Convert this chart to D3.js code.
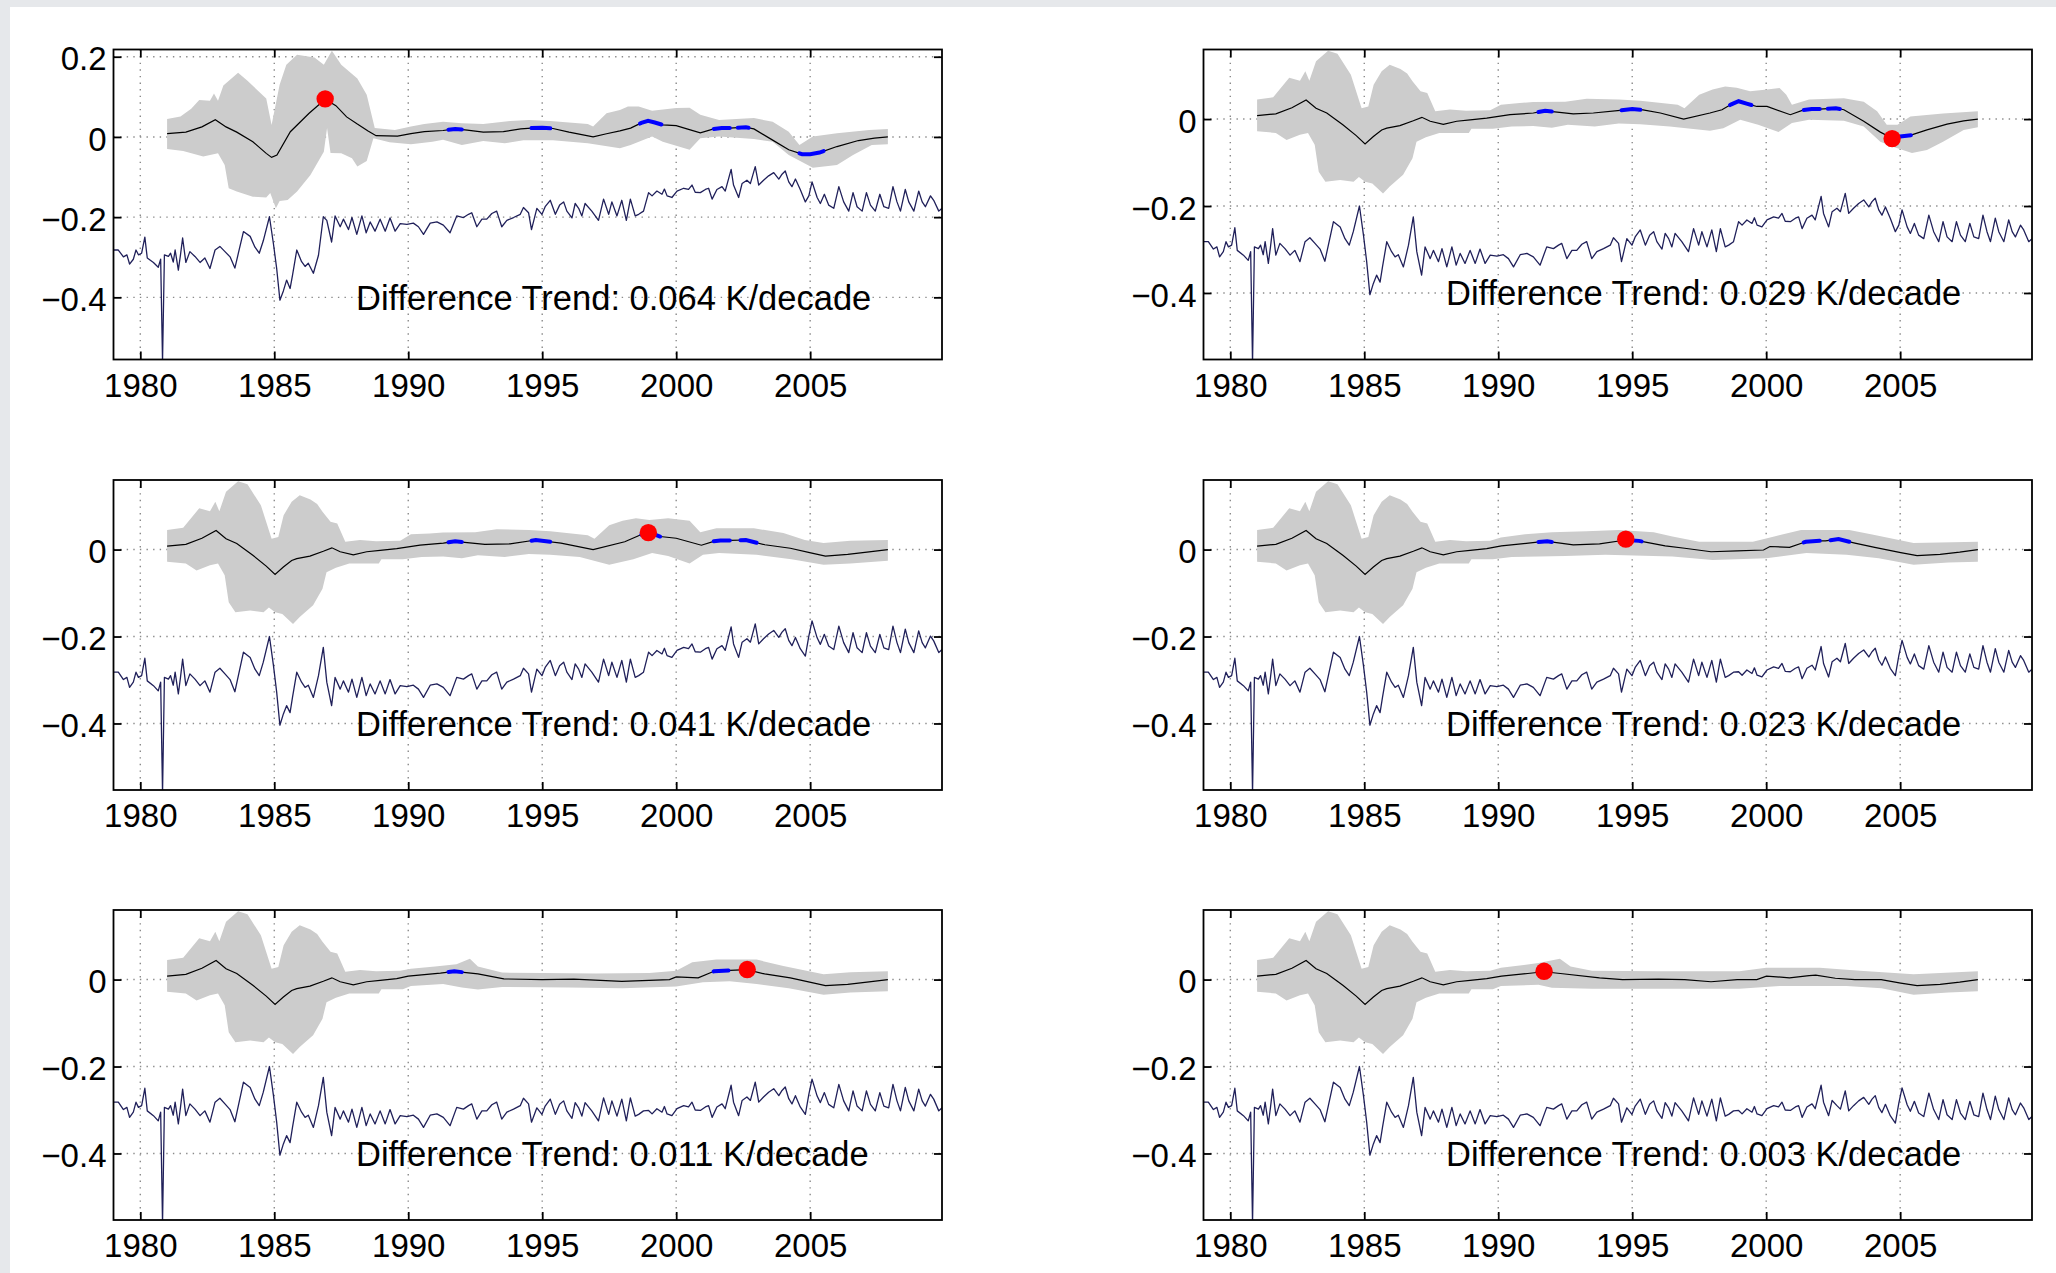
<!DOCTYPE html>
<html><head><meta charset="utf-8">
<script src="https://cdn.jsdelivr.net/npm/d3@7"></script>
<style>html,body{margin:0;padding:0;background:#e6e8eb;} svg{display:block;}</style>
</head><body>
<script>
// ---------------- DATA ----------------
const xDomain = [1979, 2009.92];
const xTickYears = [1980, 1985, 1990, 1995, 2000, 2005];
const yTicksP1 = [-0.4, -0.2, 0, 0.2];
const yTicksOther = [-0.4, -0.2, 0];
const yDomP1 = [-0.555, 0.218];
const yDomOther = [-0.553, 0.160];
const trendLabels = [
  "Difference Trend: 0.064 K/decade", "Difference Trend: 0.029 K/decade",
  "Difference Trend: 0.041 K/decade", "Difference Trend: 0.023 K/decade",
  "Difference Trend: 0.011 K/decade", "Difference Trend: 0.003 K/decade"];

const navyYears = [
1979.0,1979.18,1979.37,1979.5,1979.6,1979.74,1979.84,1979.93,1980.05,1980.17,
1980.26,1980.49,1980.67,1980.76,1980.83,1980.9,1981.05,1981.13,1981.23,1981.3,
1981.42,1981.5,1981.58,1981.7,1981.85,1982.04,1982.23,1982.41,1982.6,1982.79,
1982.97,1983.16,1983.35,1983.53,1983.66,1983.85,1984.1,1984.28,1984.44,1984.59,
1984.82,1984.97,1985.09,1985.21,1985.34,1985.46,1985.59,1985.68,1985.84,1986.02,
1986.15,1986.27,1986.46,1986.65,1986.83,1986.96,1987.14,1987.27,1987.46,1987.58,
1987.77,1987.9,1988.08,1988.27,1988.43,1988.58,1988.76,1988.95,1989.14,1989.32,
1989.51,1989.7,1989.95,1990.19,1990.38,1990.57,1990.82,1991.07,1991.31,1991.56,
1991.81,1992.06,1992.25,1992.37,1992.56,1992.75,1992.93,1993.12,1993.3,1993.49,
1993.68,1993.93,1994.18,1994.3,1994.49,1994.6,1994.8,1994.99,1995.11,1995.3,
1995.49,1995.65,1995.8,1995.92,1996.11,1996.23,1996.36,1996.48,1996.6,1996.85,
1997.1,1997.29,1997.48,1997.6,1997.79,1997.97,1998.14,1998.29,1998.47,1998.6,
1998.78,1998.97,1999.1,1999.28,1999.47,1999.56,1999.66,1999.84,2000.03,2000.28,
2000.46,2000.59,2000.71,2000.9,2001.09,2001.21,2001.34,2001.52,2001.71,2001.83,
2002.05,2002.14,2002.33,2002.46,2002.64,2002.77,2002.95,2003.08,2003.26,2003.45,
2003.64,2003.83,2003.95,2004.07,2004.2,2004.32,2004.45,2004.63,2004.82,2004.95,
2005.07,2005.26,2005.38,2005.53,2005.69,2005.88,2006.07,2006.25,2006.44,2006.6,
2006.75,2006.94,2007.1,2007.25,2007.43,2007.6,2007.75,2007.93,2008.09,2008.24,
2008.37,2008.55,2008.68,2008.87,2009.05,2009.18,2009.3,2009.49,2009.61,2009.8,
2009.92];

const diffP1 = [
-0.282,-0.282,-0.299,-0.294,-0.317,-0.305,-0.282,-0.294,-0.290,-0.250,
-0.302,-0.313,-0.325,-0.305,-0.560,-0.294,-0.298,-0.290,-0.312,-0.282,
-0.332,-0.294,-0.252,-0.313,-0.286,-0.298,-0.313,-0.302,-0.328,-0.282,
-0.273,-0.286,-0.299,-0.327,-0.290,-0.236,-0.248,-0.275,-0.290,-0.259,
-0.199,-0.267,-0.328,-0.407,-0.384,-0.357,-0.378,-0.345,-0.282,-0.311,
-0.323,-0.315,-0.340,-0.295,-0.199,-0.208,-0.262,-0.197,-0.224,-0.205,
-0.231,-0.201,-0.243,-0.197,-0.239,-0.212,-0.235,-0.205,-0.235,-0.202,
-0.235,-0.216,-0.218,-0.215,-0.224,-0.243,-0.215,-0.212,-0.220,-0.239,
-0.197,-0.201,-0.193,-0.189,-0.224,-0.205,-0.205,-0.191,-0.185,-0.224,
-0.208,-0.201,-0.193,-0.176,-0.189,-0.231,-0.178,-0.193,-0.174,-0.158,
-0.193,-0.170,-0.162,-0.185,-0.202,-0.166,-0.178,-0.197,-0.166,-0.185,
-0.208,-0.155,-0.193,-0.162,-0.197,-0.158,-0.208,-0.155,-0.197,-0.193,
-0.185,-0.139,-0.147,-0.135,-0.143,-0.130,-0.147,-0.151,-0.135,-0.128,
-0.131,-0.120,-0.138,-0.139,-0.131,-0.128,-0.155,-0.131,-0.124,-0.135,
-0.081,-0.120,-0.151,-0.116,-0.108,-0.116,-0.074,-0.120,-0.108,-0.097,
-0.089,-0.105,-0.093,-0.085,-0.112,-0.124,-0.105,-0.131,-0.162,-0.147,
-0.112,-0.151,-0.166,-0.143,-0.170,-0.178,-0.124,-0.162,-0.185,-0.139,
-0.174,-0.185,-0.139,-0.170,-0.185,-0.143,-0.174,-0.178,-0.124,-0.162,
-0.185,-0.131,-0.162,-0.185,-0.135,-0.162,-0.174,-0.147,-0.158,-0.185,
-0.178];

const diffP2 = [
-0.282,-0.282,-0.299,-0.294,-0.317,-0.305,-0.282,-0.294,-0.290,-0.250,
-0.302,-0.313,-0.325,-0.305,-0.560,-0.294,-0.298,-0.290,-0.312,-0.282,
-0.332,-0.294,-0.252,-0.313,-0.286,-0.298,-0.313,-0.302,-0.328,-0.282,
-0.273,-0.286,-0.299,-0.327,-0.290,-0.236,-0.248,-0.275,-0.290,-0.259,
-0.200,-0.267,-0.328,-0.404,-0.378,-0.359,-0.375,-0.340,-0.282,-0.305,
-0.317,-0.312,-0.340,-0.290,-0.225,-0.305,-0.359,-0.294,-0.321,-0.302,
-0.328,-0.298,-0.340,-0.294,-0.336,-0.309,-0.332,-0.302,-0.332,-0.299,
-0.332,-0.313,-0.315,-0.312,-0.321,-0.340,-0.312,-0.309,-0.317,-0.336,
-0.294,-0.298,-0.290,-0.286,-0.321,-0.302,-0.302,-0.288,-0.282,-0.321,
-0.305,-0.298,-0.290,-0.273,-0.286,-0.328,-0.275,-0.290,-0.271,-0.255,
-0.290,-0.267,-0.259,-0.282,-0.299,-0.263,-0.275,-0.294,-0.263,-0.282,
-0.305,-0.252,-0.290,-0.259,-0.294,-0.255,-0.305,-0.252,-0.294,-0.290,
-0.282,-0.236,-0.244,-0.232,-0.240,-0.227,-0.244,-0.248,-0.232,-0.225,
-0.228,-0.217,-0.235,-0.236,-0.228,-0.225,-0.252,-0.228,-0.221,-0.232,
-0.178,-0.217,-0.248,-0.213,-0.205,-0.213,-0.171,-0.217,-0.205,-0.194,
-0.186,-0.202,-0.190,-0.182,-0.209,-0.221,-0.202,-0.228,-0.259,-0.244,
-0.209,-0.248,-0.263,-0.240,-0.267,-0.275,-0.221,-0.259,-0.282,-0.236,
-0.271,-0.282,-0.236,-0.267,-0.282,-0.240,-0.271,-0.275,-0.221,-0.259,
-0.282,-0.228,-0.259,-0.282,-0.232,-0.259,-0.271,-0.244,-0.255,-0.282,
-0.275];

const diffP3 = [
-0.282,-0.282,-0.299,-0.294,-0.317,-0.305,-0.282,-0.294,-0.290,-0.250,
-0.302,-0.313,-0.325,-0.305,-0.560,-0.294,-0.298,-0.290,-0.312,-0.282,
-0.332,-0.294,-0.252,-0.313,-0.286,-0.298,-0.313,-0.302,-0.328,-0.282,
-0.273,-0.286,-0.299,-0.327,-0.290,-0.236,-0.248,-0.275,-0.290,-0.259,
-0.200,-0.267,-0.328,-0.404,-0.378,-0.359,-0.375,-0.340,-0.282,-0.305,
-0.317,-0.312,-0.340,-0.290,-0.225,-0.305,-0.359,-0.294,-0.321,-0.302,
-0.328,-0.298,-0.340,-0.294,-0.336,-0.309,-0.332,-0.302,-0.332,-0.299,
-0.332,-0.313,-0.315,-0.312,-0.321,-0.340,-0.312,-0.309,-0.317,-0.336,
-0.294,-0.298,-0.290,-0.286,-0.321,-0.302,-0.302,-0.288,-0.282,-0.321,
-0.305,-0.298,-0.290,-0.273,-0.286,-0.328,-0.275,-0.290,-0.271,-0.255,
-0.290,-0.267,-0.259,-0.282,-0.299,-0.263,-0.275,-0.294,-0.263,-0.282,
-0.305,-0.252,-0.290,-0.259,-0.294,-0.255,-0.305,-0.252,-0.294,-0.290,
-0.282,-0.236,-0.244,-0.232,-0.240,-0.227,-0.244,-0.248,-0.232,-0.225,
-0.228,-0.217,-0.235,-0.236,-0.228,-0.225,-0.252,-0.228,-0.221,-0.232,
-0.178,-0.217,-0.248,-0.213,-0.205,-0.213,-0.171,-0.217,-0.205,-0.194,
-0.186,-0.202,-0.190,-0.182,-0.209,-0.221,-0.202,-0.228,-0.245,-0.199,
-0.164,-0.203,-0.218,-0.195,-0.222,-0.230,-0.176,-0.214,-0.237,-0.191,
-0.226,-0.237,-0.191,-0.222,-0.237,-0.195,-0.226,-0.230,-0.176,-0.214,
-0.237,-0.183,-0.214,-0.237,-0.187,-0.214,-0.226,-0.199,-0.210,-0.237,
-0.230];

const diffP4 = [
-0.282,-0.282,-0.299,-0.294,-0.317,-0.305,-0.282,-0.294,-0.290,-0.250,
-0.302,-0.313,-0.325,-0.305,-0.560,-0.294,-0.298,-0.290,-0.312,-0.282,
-0.332,-0.294,-0.252,-0.313,-0.286,-0.298,-0.313,-0.302,-0.328,-0.282,
-0.273,-0.286,-0.299,-0.327,-0.290,-0.236,-0.248,-0.275,-0.290,-0.259,
-0.200,-0.267,-0.328,-0.404,-0.378,-0.359,-0.375,-0.340,-0.282,-0.305,
-0.317,-0.312,-0.340,-0.290,-0.225,-0.305,-0.359,-0.294,-0.321,-0.302,
-0.328,-0.298,-0.340,-0.294,-0.336,-0.309,-0.332,-0.302,-0.332,-0.299,
-0.332,-0.313,-0.315,-0.312,-0.321,-0.340,-0.312,-0.309,-0.317,-0.336,
-0.294,-0.298,-0.290,-0.286,-0.321,-0.302,-0.302,-0.288,-0.282,-0.321,
-0.305,-0.298,-0.290,-0.273,-0.286,-0.328,-0.275,-0.290,-0.271,-0.255,
-0.290,-0.267,-0.259,-0.282,-0.299,-0.263,-0.275,-0.294,-0.263,-0.282,
-0.305,-0.252,-0.290,-0.259,-0.294,-0.255,-0.305,-0.252,-0.294,-0.290,
-0.282,-0.281,-0.289,-0.277,-0.285,-0.272,-0.289,-0.293,-0.277,-0.270,
-0.273,-0.262,-0.280,-0.281,-0.273,-0.270,-0.297,-0.273,-0.266,-0.277,
-0.223,-0.262,-0.293,-0.258,-0.250,-0.258,-0.216,-0.262,-0.250,-0.239,
-0.231,-0.247,-0.235,-0.227,-0.254,-0.266,-0.247,-0.273,-0.290,-0.244,
-0.209,-0.248,-0.263,-0.240,-0.267,-0.275,-0.221,-0.259,-0.282,-0.236,
-0.271,-0.282,-0.236,-0.267,-0.282,-0.240,-0.271,-0.275,-0.221,-0.259,
-0.282,-0.228,-0.259,-0.282,-0.232,-0.259,-0.271,-0.244,-0.255,-0.282,
-0.275];

const diffP5 = [
-0.282,-0.282,-0.299,-0.294,-0.317,-0.305,-0.282,-0.294,-0.290,-0.250,
-0.302,-0.313,-0.325,-0.305,-0.560,-0.294,-0.298,-0.290,-0.312,-0.282,
-0.332,-0.294,-0.252,-0.313,-0.286,-0.298,-0.313,-0.302,-0.328,-0.282,
-0.273,-0.286,-0.299,-0.327,-0.290,-0.236,-0.248,-0.275,-0.290,-0.259,
-0.200,-0.267,-0.328,-0.404,-0.378,-0.359,-0.375,-0.340,-0.282,-0.305,
-0.317,-0.312,-0.340,-0.290,-0.225,-0.305,-0.359,-0.294,-0.321,-0.302,
-0.328,-0.298,-0.340,-0.294,-0.336,-0.309,-0.332,-0.302,-0.332,-0.299,
-0.332,-0.313,-0.315,-0.312,-0.321,-0.340,-0.312,-0.309,-0.317,-0.336,
-0.294,-0.298,-0.290,-0.286,-0.321,-0.302,-0.302,-0.288,-0.282,-0.321,
-0.305,-0.298,-0.290,-0.273,-0.286,-0.328,-0.295,-0.310,-0.291,-0.275,
-0.310,-0.287,-0.279,-0.302,-0.319,-0.283,-0.295,-0.314,-0.283,-0.302,
-0.325,-0.272,-0.310,-0.279,-0.314,-0.275,-0.325,-0.272,-0.314,-0.310,
-0.302,-0.301,-0.309,-0.297,-0.305,-0.292,-0.309,-0.313,-0.297,-0.290,
-0.293,-0.282,-0.300,-0.301,-0.293,-0.290,-0.317,-0.293,-0.286,-0.297,
-0.243,-0.282,-0.313,-0.278,-0.270,-0.278,-0.236,-0.282,-0.270,-0.259,
-0.251,-0.267,-0.255,-0.247,-0.274,-0.286,-0.267,-0.293,-0.310,-0.264,
-0.229,-0.268,-0.283,-0.260,-0.287,-0.295,-0.241,-0.279,-0.302,-0.256,
-0.291,-0.302,-0.256,-0.287,-0.302,-0.260,-0.291,-0.295,-0.241,-0.279,
-0.302,-0.248,-0.279,-0.302,-0.252,-0.279,-0.291,-0.264,-0.275,-0.302,
-0.295];

const diffP6 = [
-0.282,-0.282,-0.299,-0.294,-0.317,-0.305,-0.282,-0.294,-0.290,-0.250,
-0.302,-0.313,-0.325,-0.305,-0.560,-0.294,-0.298,-0.290,-0.312,-0.282,
-0.332,-0.294,-0.252,-0.313,-0.286,-0.298,-0.313,-0.302,-0.328,-0.282,
-0.273,-0.286,-0.299,-0.327,-0.290,-0.236,-0.248,-0.275,-0.290,-0.259,
-0.200,-0.267,-0.328,-0.404,-0.378,-0.359,-0.375,-0.340,-0.282,-0.305,
-0.317,-0.312,-0.340,-0.290,-0.225,-0.305,-0.359,-0.294,-0.321,-0.302,
-0.328,-0.298,-0.340,-0.294,-0.336,-0.309,-0.332,-0.302,-0.332,-0.299,
-0.332,-0.313,-0.315,-0.312,-0.321,-0.340,-0.312,-0.309,-0.317,-0.336,
-0.294,-0.298,-0.290,-0.286,-0.321,-0.302,-0.302,-0.288,-0.282,-0.321,
-0.305,-0.298,-0.290,-0.273,-0.286,-0.328,-0.295,-0.310,-0.291,-0.275,
-0.310,-0.287,-0.279,-0.302,-0.319,-0.283,-0.295,-0.314,-0.283,-0.302,
-0.325,-0.272,-0.310,-0.279,-0.314,-0.275,-0.325,-0.272,-0.314,-0.310,
-0.302,-0.301,-0.309,-0.297,-0.305,-0.292,-0.309,-0.313,-0.297,-0.290,
-0.293,-0.282,-0.300,-0.301,-0.293,-0.290,-0.317,-0.293,-0.286,-0.297,
-0.243,-0.282,-0.313,-0.278,-0.290,-0.298,-0.256,-0.302,-0.290,-0.279,
-0.271,-0.287,-0.275,-0.267,-0.294,-0.306,-0.287,-0.313,-0.330,-0.284,
-0.249,-0.288,-0.303,-0.280,-0.307,-0.315,-0.261,-0.299,-0.322,-0.276,
-0.311,-0.322,-0.276,-0.307,-0.322,-0.280,-0.311,-0.315,-0.261,-0.299,
-0.322,-0.268,-0.299,-0.322,-0.272,-0.299,-0.311,-0.284,-0.295,-0.322,
-0.315];

// smoothed difference (black line) and its uncertainty band, [year, value]
const meanP1 = [[1981.0,0.008],[1981.7,0.012],[1982.3,0.025],[1982.8,0.043],[1983.2,0.025],[1983.6,0.012],[1984.2,-0.012],[1984.7,-0.041],[1984.9,-0.051],[1985.1,-0.045],[1985.6,0.013],[1986.3,0.059],[1986.9,0.094],[1987.3,0.078],[1987.7,0.05],[1988.1,0.032],[1988.5,0.015],[1988.8,0.003],[1989.6,0.002],[1990.1,0.008],[1990.6,0.013],[1991.3,0.016],[1991.75,0.020],[1992.2,0.017],[1992.8,0.012],[1993.55,0.013],[1994.2,0.020],[1994.6,0.022],[1995.0,0.023],[1995.4,0.021],[1996.0,0.012],[1996.9,0.0],[1997.4,0.008],[1997.9,0.015],[1998.3,0.022],[1998.7,0.035],[1998.95,0.040],[1999.2,0.036],[1999.5,0.030],[2000.0,0.028],[2000.4,0.02],[2000.9,0.010],[2001.4,0.02],[2001.7,0.022],[2002.0,0.022],[2002.3,0.023],[2002.6,0.024],[2002.9,0.020],[2003.6,-0.008],[2004.2,-0.032],[2004.7,-0.043],[2005.0,-0.043],[2005.35,-0.039],[2006.0,-0.024],[2006.8,-0.009],[2007.4,-0.003],[2007.9,0.0]];
const upperP1 = [[1981.0,0.045],[1981.5,0.051],[1981.9,0.07],[1982.2,0.092],[1982.6,0.09],[1982.75,0.108],[1982.9,0.09],[1983.1,0.128],[1983.65,0.16],[1984.0,0.14],[1984.7,0.096],[1984.9,0.03],[1985.2,0.13],[1985.45,0.18],[1985.85,0.205],[1986.5,0.198],[1986.85,0.18],[1987.15,0.215],[1987.5,0.18],[1988.1,0.146],[1988.45,0.105],[1988.75,0.022],[1989.5,0.017],[1990.1,0.026],[1990.6,0.032],[1991.3,0.038],[1992.0,0.034],[1992.8,0.032],[1993.8,0.040],[1994.5,0.042],[1995.3,0.04],[1996.7,0.032],[1996.9,0.026],[1997.4,0.059],[1997.9,0.067],[1998.2,0.076],[1998.6,0.076],[1999.1,0.065],[2000.0,0.072],[2000.5,0.073],[2000.9,0.055],[2001.6,0.042],[2002.9,0.047],[2003.6,0.038],[2004.2,0.013],[2004.6,-0.02],[2005.1,0.001],[2006.0,0.009],[2007.2,0.017],[2007.9,0.020]];
const lowerP1 = [[1981.0,-0.030],[1981.6,-0.035],[1982.35,-0.049],[1982.9,-0.041],[1983.15,-0.07],[1983.3,-0.128],[1983.6,-0.136],[1984.2,-0.149],[1984.7,-0.151],[1984.85,-0.14],[1985.06,-0.178],[1985.2,-0.16],[1985.5,-0.157],[1985.85,-0.136],[1986.35,-0.095],[1986.85,-0.037],[1986.97,0.022],[1987.1,-0.04],[1987.5,-0.041],[1987.9,-0.053],[1988.1,-0.074],[1988.45,-0.06],[1988.7,-0.003],[1989.3,-0.013],[1990.1,-0.018],[1990.9,-0.012],[1991.3,-0.007],[1992.0,-0.02],[1992.8,-0.01],[1993.6,-0.016],[1994.3,-0.008],[1995.4,-0.008],[1996.7,-0.016],[1997.9,-0.028],[1998.3,-0.02],[1999.1,0.001],[1999.5,-0.012],[2000.5,-0.032],[2000.9,-0.003],[2001.6,0.001],[2002.9,-0.005],[2003.6,-0.012],[2004.2,-0.045],[2004.8,-0.066],[2005.1,-0.077],[2006.0,-0.07],[2006.6,-0.045],[2007.3,-0.020],[2007.9,-0.018]];

const meanEarly = [[1981.0,0.008],[1981.7,0.012],[1982.3,0.026],[1982.83,0.044],[1983.2,0.025],[1983.6,0.014],[1984.2,-0.013],[1984.7,-0.038],[1985.03,-0.057],[1985.34,-0.040],[1985.65,-0.025],[1985.84,-0.021],[1986.33,-0.015],[1986.83,-0.004],[1987.15,0.004],[1987.46,-0.005],[1987.95,-0.012],[1988.45,-0.005],[1988.95,-0.002],[1989.57,0.002]];
const upperEarly = [[1981.0,0.045],[1981.6,0.05],[1982.2,0.095],[1982.6,0.088],[1982.8,0.11],[1982.95,0.088],[1983.2,0.133],[1983.65,0.157],[1984.0,0.15],[1984.5,0.102],[1984.9,0.025],[1985.15,0.029],[1985.35,0.079],[1985.65,0.11],[1985.95,0.125],[1986.35,0.115],[1986.6,0.105],[1986.8,0.087],[1987.1,0.064],[1987.35,0.06],[1987.65,0.018],[1988.2,0.022],[1988.8,0.019],[1989.7,0.02]];
const lowerEarly = [[1981.0,-0.028],[1981.7,-0.032],[1982.1,-0.048],[1982.6,-0.036],[1982.9,-0.032],[1983.15,-0.059],[1983.3,-0.121],[1983.55,-0.144],[1984.1,-0.14],[1984.6,-0.144],[1984.8,-0.133],[1985.03,-0.144],[1985.3,-0.148],[1985.7,-0.171],[1985.95,-0.155],[1986.45,-0.128],[1986.8,-0.09],[1986.95,-0.052],[1987.3,-0.042],[1987.8,-0.032],[1988.9,-0.032],[1989.0,-0.022],[1989.8,-0.022]];

const meanLateP2 = [[1990.44,0.010],[1991.31,0.014],[1991.75,0.019],[1992.2,0.016],[1992.8,0.012],[1993.55,0.014],[1994.55,0.020],[1995.0,0.023],[1995.4,0.021],[1996.05,0.014],[1996.92,0.0],[1997.9,0.014],[1998.35,0.0215],[1998.7,0.034],[1998.97,0.041],[1999.3,0.035],[1999.65,0.029],[2000.03,0.029],[2000.9,0.010],[2001.4,0.021],[2001.7,0.023],[2002.0,0.023],[2002.3,0.024],[2002.6,0.025],[2002.9,0.0215],[2003.64,-0.005],[2004.26,-0.030],[2004.7,-0.044],[2005.0,-0.040],[2005.4,-0.037],[2006.0,-0.025],[2006.75,-0.0115],[2007.37,-0.004],[2007.9,0.0]];
const upperLateP2 = [[1990.1,0.033],[1990.8,0.037],[1991.3,0.039],[1992.5,0.04],[1993.3,0.047],[1994.5,0.045],[1995.3,0.042],[1996.7,0.033],[1996.95,0.025],[1997.5,0.056],[1998.0,0.068],[1998.47,0.075],[1998.9,0.072],[1999.4,0.064],[2000.03,0.068],[2000.5,0.0715],[2000.75,0.056],[2000.96,0.033],[2001.6,0.045],[2002.9,0.048],[2003.64,0.04],[2004.14,0.018],[2004.5,-0.013],[2004.9,-0.013],[2005.38,0.006],[2006.6,0.013],[2007.9,0.018]];
const lowerLateP2 = [[1990.5,-0.017],[1991.3,-0.016],[1992.0,-0.02],[1992.6,-0.013],[1993.6,-0.017],[1994.5,-0.010],[1995.3,-0.012],[1996.4,-0.017],[1997.9,-0.027],[1998.4,-0.021],[1999.03,-0.0015],[1999.7,-0.013],[2000.46,-0.030],[2000.96,-0.009],[2001.6,-0.0015],[2002.9,-0.004],[2003.64,-0.017],[2004.26,-0.052],[2004.7,-0.063],[2005.44,-0.078],[2006.0,-0.071],[2006.6,-0.052],[2007.37,-0.025],[2007.9,-0.019]];

const meanLateP3 = [[1990.44,0.010],[1991.31,0.015],[1991.75,0.019],[1992.2,0.016],[1992.86,0.012],[1993.8,0.013],[1994.76,0.022],[1995.7,0.015],[1996.9,0.0],[1998.08,0.018],[1998.68,0.034],[1998.97,0.040],[1999.4,0.030],[2000.0,0.026],[2000.94,0.010],[2001.4,0.019],[2001.65,0.021],[2002.0,0.021],[2002.6,0.022],[2003.31,0.011],[2004.26,0.003],[2004.98,-0.007],[2005.57,-0.015],[2006.4,-0.011],[2007.12,-0.006],[2007.9,0.0]];
const upperLateP3 = [[1990.1,0.035],[1990.8,0.037],[1991.3,0.039],[1992.5,0.04],[1993.3,0.047],[1994.5,0.045],[1995.3,0.042],[1996.7,0.033],[1996.95,0.025],[1997.5,0.056],[1998.0,0.066],[1998.5,0.072],[1999.0,0.068],[1999.7,0.072],[2000.5,0.066],[2000.9,0.04],[2001.5,0.049],[2002.9,0.049],[2004.0,0.038],[2004.8,0.022],[2005.5,0.015],[2006.5,0.02],[2007.9,0.022]];
const lowerLateP3 = [[1990.5,-0.017],[1991.3,-0.016],[1992.0,-0.02],[1992.6,-0.013],[1993.6,-0.017],[1994.5,-0.010],[1995.3,-0.012],[1996.4,-0.017],[1997.5,-0.035],[1998.4,-0.022],[1999.1,-0.008],[1999.7,-0.015],[2000.5,-0.032],[2001.0,-0.012],[2001.6,-0.008],[2003.0,-0.012],[2004.3,-0.022],[2005.5,-0.035],[2006.5,-0.032],[2007.9,-0.026]];

const meanLateP4 = [[1990.12,0.0085],[1991.46,0.017],[1991.83,0.019],[1992.8,0.011],[1993.78,0.013],[1994.76,0.022],[1995.25,0.020],[1996.23,0.0085],[1996.96,0.003],[1997.94,-0.005],[1998.92,-0.003],[1999.9,-0.001],[2000.14,0.007],[2000.87,0.005],[2001.48,0.018],[2002.0,0.02],[2002.21,0.02],[2002.7,0.024],[2003.31,0.015],[2004.05,0.005],[2005.02,-0.007],[2005.63,-0.014],[2006.49,-0.011],[2007.22,-0.006],[2007.9,0.0]];
const upperLateP4 = [[1990.1,0.028],[1991.0,0.035],[1992.0,0.04],[1993.3,0.042],[1994.5,0.045],[1995.8,0.04],[1996.5,0.03],[1997.5,0.018],[1999.5,0.018],[2000.3,0.03],[2001.3,0.045],[2003.1,0.045],[2004.0,0.034],[2005.5,0.015],[2007.9,0.018]];
const lowerLateP4 = [[1990.5,-0.017],[1991.5,-0.016],[1992.5,-0.015],[1994.0,-0.012],[1996.5,-0.016],[1998.0,-0.024],[2000.0,-0.02],[2001.5,-0.008],[2003.0,-0.012],[2004.2,-0.02],[2005.5,-0.035],[2006.8,-0.03],[2007.9,-0.028]];

const meanLateP5 = [[1990.0,0.008],[1991.2,0.015],[1991.72,0.019],[1992.6,0.013],[1993.57,0.0015],[1995.0,0.0],[1996.18,0.001],[1997.97,-0.004],[1999.75,0.0],[2000.0,0.006],[2000.82,0.004],[2001.41,0.019],[2002.0,0.021],[2002.64,0.023],[2003.3,0.013],[2004.26,0.004],[2004.98,-0.006],[2005.57,-0.014],[2006.4,-0.011],[2007.12,-0.006],[2007.9,0.0]];
const upperLateP5 = [[1990.1,0.025],[1991.0,0.03],[1991.8,0.035],[1992.3,0.048],[1992.6,0.03],[1993.5,0.016],[1995.0,0.015],[1997.0,0.014],[1999.0,0.015],[2000.0,0.02],[2000.6,0.04],[2001.5,0.046],[2003.0,0.046],[2004.0,0.031],[2005.5,0.012],[2006.5,0.017],[2007.9,0.019]];
const lowerLateP5 = [[1990.1,-0.015],[1991.3,-0.01],[1992.0,-0.018],[1992.6,-0.023],[1993.5,-0.017],[1996.0,-0.018],[1998.0,-0.02],[2000.0,-0.016],[2001.0,-0.006],[2002.0,-0.004],[2003.0,-0.01],[2004.2,-0.02],[2005.5,-0.035],[2006.5,-0.03],[2007.9,-0.027]];

const meanLateP6 = [[1990.12,0.008],[1991.1,0.014],[1991.7,0.018],[1992.32,0.014],[1993.78,0.004],[1994.64,0.0],[1995.98,0.001],[1996.96,0.0],[1997.94,-0.005],[1998.92,0.0],[1999.65,0.0],[2000.01,0.008],[2000.87,0.004],[2001.6,0.009],[2001.85,0.010],[2002.58,0.003],[2003.31,0.0],[2004.29,0.0],[2005.02,-0.008],[2005.63,-0.014],[2006.49,-0.011],[2007.22,-0.006],[2007.9,0.0]];
const upperLateP6 = [[1990.1,0.027],[1991.5,0.038],[1992.3,0.048],[1992.7,0.03],[1993.5,0.02],[1996.0,0.019],[1999.0,0.019],[2000.0,0.027],[2002.0,0.027],[2003.5,0.02],[2005.5,0.012],[2007.9,0.019]];
const lowerLateP6 = [[1990.1,-0.015],[1991.5,-0.012],[1992.0,-0.019],[1993.5,-0.021],[1996.0,-0.021],[1999.0,-0.021],[2000.5,-0.015],[2003.0,-0.015],[2004.3,-0.02],[2005.5,-0.035],[2006.8,-0.03],[2007.9,-0.027]];

// highlighted (blue) intervals of the smoothed line
const blueP1 = [[1991.5,1992.0],[1994.6,1995.3],[1998.65,1999.45],[2001.4,2002.0],[2002.3,2002.7],[2004.6,2005.5]];
const blueP2 = [[1991.5,1992.0],[1994.6,1995.3],[1998.65,1999.45],[2001.4,2002.0],[2002.3,2002.75],[2004.55,2005.4]];
const blueP3 = [[1991.5,1992.0],[1994.6,1995.3],[1998.7,1999.4],[2001.4,2002.0],[2002.4,2003.0]];
const blueP4 = [[1991.5,1992.0],[1994.7,1995.35],[2001.4,2002.0],[2002.4,2003.1]];
const blueP5 = [[1991.5,1992.0],[2001.4,2001.95]];
const blueP6 = [];

// red break points [year, value]
const breakP1 = [1986.9, 0.095];
const breakP2 = [2004.70, -0.045];
const breakP3 = [1998.96, 0.039];
const breakP4 = [1994.76, 0.024];
const breakP5 = [2002.65, 0.023];
const breakP6 = [1991.71, 0.019];

// ---------------- DRAWING ----------------
const panels = [
  {diff: diffP1, mean: meanP1, upper: upperP1, lower: lowerP1, blue: blueP1, brk: breakP1, yDom: yDomP1, yTicks: yTicksP1},
  {diff: diffP2, mean: meanEarly.concat(meanLateP2), upper: upperEarly.concat(upperLateP2), lower: lowerEarly.concat(lowerLateP2), blue: blueP2, brk: breakP2, yDom: yDomOther, yTicks: yTicksOther},
  {diff: diffP3, mean: meanEarly.concat(meanLateP3), upper: upperEarly.concat(upperLateP3), lower: lowerEarly.concat(lowerLateP3), blue: blueP3, brk: breakP3, yDom: yDomOther, yTicks: yTicksOther},
  {diff: diffP4, mean: meanEarly.concat(meanLateP4), upper: upperEarly.concat(upperLateP4), lower: lowerEarly.concat(lowerLateP4), blue: blueP4, brk: breakP4, yDom: yDomOther, yTicks: yTicksOther},
  {diff: diffP5, mean: meanEarly.concat(meanLateP5), upper: upperEarly.concat(upperLateP5), lower: lowerEarly.concat(lowerLateP5), blue: blueP5, brk: breakP5, yDom: yDomOther, yTicks: yTicksOther},
  {diff: diffP6, mean: meanEarly.concat(meanLateP6), upper: upperEarly.concat(upperLateP6), lower: lowerEarly.concat(lowerLateP6), blue: blueP6, brk: breakP6, yDom: yDomOther, yTicks: yTicksOther}
];

const PAGE_W = 2056, PAGE_H = 1273;
const colX = [113.5, 1203.5], rowY = [49.5, 480, 910], PW = 828.5, PH = 310;
const FONT = '"Liberation Sans", Arial, Helvetica, sans-serif';
const TICK_FS = 33;
const fmtY = d => d === 0 ? '0' : (d < 0 ? '\u2212' : '') + Math.abs(d).toFixed(1);

function interp(knots, t) {
  for (let i = 0; i < knots.length - 1; i++) {
    const a = knots[i], b = knots[i + 1];
    if (t >= a[0] && t <= b[0]) return a[1] + (b[1] - a[1]) * (t - a[0]) / (b[0] - a[0]);
  }
  return t < knots[0][0] ? knots[0][1] : knots[knots.length - 1][1];
}
function segPts(knots, a, b) {
  return [[a, interp(knots, a)]].concat(knots.filter(k => k[0] > a && k[0] < b), [[b, interp(knots, b)]]);
}

const svg = d3.select('body').append('svg').attr('width', PAGE_W).attr('height', PAGE_H);
svg.append('rect').attr('width', PAGE_W).attr('height', PAGE_H).attr('fill', '#e6e8eb');
svg.append('rect').attr('x', 10).attr('y', 7).attr('width', PAGE_W - 10).attr('height', PAGE_H - 7).attr('fill', '#ffffff');
const defs = svg.append('defs');

panels.forEach((p, i) => {
  const x0 = colX[i % 2], y0 = rowY[Math.floor(i / 2)];
  const x = d3.scaleLinear().domain(xDomain).range([x0, x0 + PW]);
  const y = d3.scaleLinear().domain(p.yDom).range([y0 + PH, y0]);
  const g = svg.append('g');
  const cid = 'clip' + i;
  defs.append('clipPath').attr('id', cid).append('rect').attr('x', x0).attr('y', y0).attr('width', PW).attr('height', PH);

  // dotted grid
  const grid = g.append('g').attr('stroke', '#8a8a8a').attr('stroke-width', 1.4).attr('stroke-dasharray', '1.4,5.2');
  grid.selectAll('line.v').data(xTickYears).join('line').attr('class', 'v')
    .attr('x1', d => x(d)).attr('x2', d => x(d)).attr('y1', y0).attr('y2', y0 + PH);
  grid.selectAll('line.h').data(p.yTicks).join('line').attr('class', 'h')
    .attr('x1', x0).attr('x2', x0 + PW).attr('y1', d => y(d)).attr('y2', d => y(d));

  const line = d3.line().x(d => x(d[0])).y(d => y(d[1]));
  const body = g.append('g').attr('clip-path', `url(#${cid})`);

  // uncertainty band
  const bandPts = p.upper.concat(p.lower.slice().reverse());
  body.append('path').attr('d', line(bandPts) + 'Z').attr('fill', '#cccccc').attr('stroke', 'none');

  // smoothed line
  body.append('path').attr('d', line(p.mean)).attr('fill', 'none').attr('stroke', '#000').attr('stroke-width', 1.2);

  // blue highlighted intervals
  p.blue.forEach(s => {
    body.append('path').attr('d', line(segPts(p.mean, s[0], s[1])))
      .attr('fill', 'none').attr('stroke', '#0000ff').attr('stroke-width', 4).attr('stroke-linecap', 'round');
  });

  // red break point
  body.append('circle').attr('cx', x(p.brk[0])).attr('cy', y(p.brk[1])).attr('r', 8.7).attr('fill', '#ff0000');

  // monthly difference series
  const navy = navyYears.map((t, k) => [t, p.diff[k]]);
  body.append('path').attr('d', line(navy)).attr('fill', 'none').attr('stroke', '#20205a')
    .attr('stroke-width', 1.3).attr('stroke-linejoin', 'round');

  // annotation
  g.append('text').attr('x', x(1988.05)).attr('y', y(-0.4) + 12.5)
    .attr('font-family', FONT).attr('font-size', 34.5).attr('fill', '#000').text(trendLabels[i]);

  // axes (ticks inside)
  const styleAxis = sel => {
    sel.select('.domain').remove();
    sel.selectAll('.tick line').attr('stroke', '#000').attr('stroke-width', 1.8);
    sel.selectAll('.tick text').attr('font-family', FONT).attr('font-size', TICK_FS).attr('fill', '#000');
    sel.attr('font-family', FONT).attr('font-size', TICK_FS);
  };
  g.append('g').attr('transform', `translate(0,${y0 + PH})`)
    .call(d3.axisBottom(x).tickValues(xTickYears).tickSize(-8).tickPadding(14).tickFormat(d3.format('d')))
    .call(styleAxis);
  g.append('g').attr('transform', `translate(0,${y0})`)
    .call(d3.axisTop(x).tickValues(xTickYears).tickSize(-8).tickFormat(''))
    .call(styleAxis);
  const la = g.append('g').attr('transform', `translate(${x0},0)`)
    .call(d3.axisLeft(y).tickValues(p.yTicks).tickSize(-8).tickPadding(7).tickFormat(fmtY))
    .call(styleAxis);
  la.selectAll('.tick text').attr('dy', '0.4em');
  g.append('g').attr('transform', `translate(${x0 + PW},0)`)
    .call(d3.axisRight(y).tickValues(p.yTicks).tickSize(-8).tickFormat(''))
    .call(styleAxis);

  // box
  g.append('rect').attr('x', x0).attr('y', y0).attr('width', PW).attr('height', PH)
    .attr('fill', 'none').attr('stroke', '#000').attr('stroke-width', 1.8);
});
</script>
</body></html>
